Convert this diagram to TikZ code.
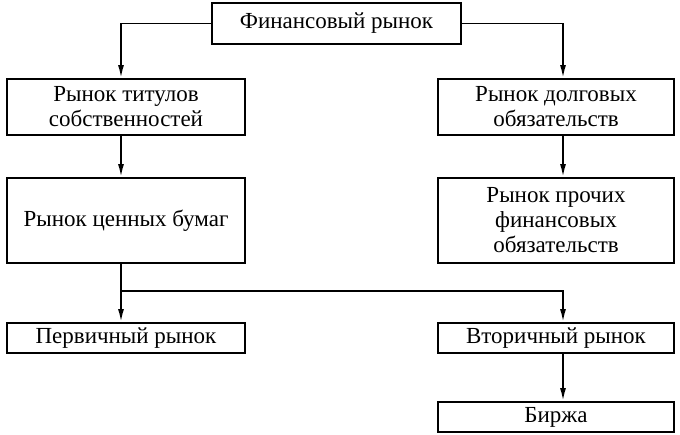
\documentclass[tikz,border=0pt]{standalone}
\usepackage{fontspec}
\setmainfont{Liberation Serif}
\usetikzlibrary{arrows.meta,calc}
\tikzset{
  box/.style={draw, line width=1.8pt, rectangle, align=center, inner sep=0pt,
    font=\fontsize{23}{25}\selectfont},
  arr/.style={line width=1.8pt, -{Latex[length=13pt,width=6pt]}},
  ln/.style={line width=1.8pt}
}
\begin{document}
\begin{tikzpicture}[x=1pt,y=-1pt]
\useasboundingbox (0,0) rectangle (680,435);
\node[box, minimum width=249pt, minimum height=41pt] (top) at (336.5,23.5) {Финансовый рынок};
\node[box, minimum width=238pt, minimum height=56pt] (l1) at (126,107) {Рынок титулов\\собственностей};
\node[box, minimum width=236pt, minimum height=56pt] (r1) at (556,107) {Рынок долговых\\обязательств};
\node[box, minimum width=238pt, minimum height=85pt] (l2) at (126,220.5) {Рынок ценных бумаг};
\node[box, minimum width=236pt, minimum height=85pt] (r2) at (556,220.5) {Рынок прочих\\финансовых\\обязательств};
\node[box, minimum width=238pt, minimum height=30pt] (l3) at (126,338) {Первичный рынок};
\node[box, minimum width=236pt, minimum height=30pt] (r3) at (556,338) {Вторичный рынок};
\node[box, minimum width=236pt, minimum height=30pt] (b) at (556,417) {Биржа};
\coordinate (xl) at (121,0);
\coordinate (xr) at (563,0);
\coordinate (j) at (121,291);
\draw[arr] (top.west) -| (xl |- l1.north);
\draw[arr] (top.east) -| (xr |- r1.north);
\draw[arr] (xl |- l1.south) -- (xl |- l2.north);
\draw[arr] (xr |- r1.south) -- (xr |- r2.north);
\draw[ln] (xl |- l2.south) -- (j);
\draw[arr] (j) -- (xl |- l3.north);
\draw[arr] (j) -| (xr |- r3.north);
\draw[arr] (xr |- r3.south) -- (xr |- b.north);
\end{tikzpicture}
\end{document}
